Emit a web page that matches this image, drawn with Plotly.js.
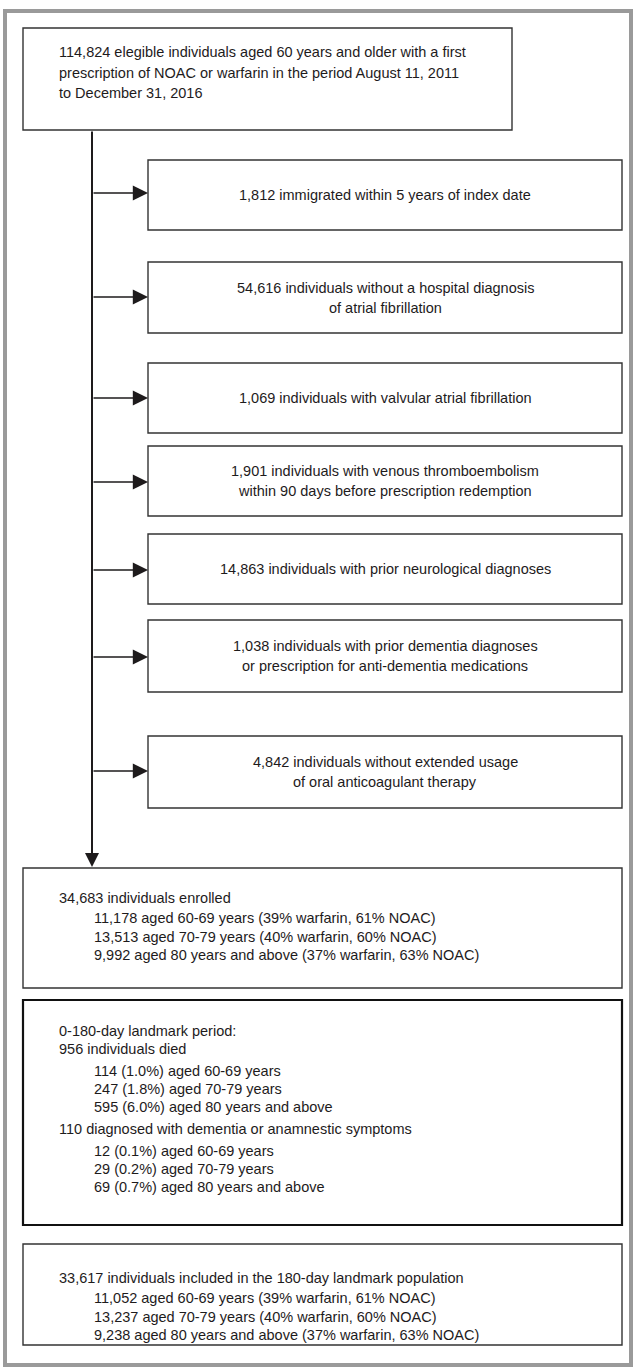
<!DOCTYPE html>
<html><head><meta charset="utf-8">
<script src="https://cdn.plot.ly/plotly-3.0.1.min.js"></script>
<style>body{margin:0;background:#fff}#chart{width:636px;height:1370px}</style>
</head><body><div id="chart"></div>
<script>
// ---- content (texts / counts) ----
const topLines = [
  "114,824 elegible individuals aged 60 years and older with a first",
  "prescription of NOAC or warfarin in the period August 11, 2011",
  "to December 31, 2016"
];
const exclusionCounts = ["1,812", "54,616", "1,069", "1,901", "14,863", "1,038", "4,842"];
const exclusionLabels = [
  [" immigrated within 5 years of index date"],
  [" individuals without a hospital diagnosis", "of atrial fibrillation"],
  [" individuals with valvular atrial fibrillation"],
  [" individuals with venous thromboembolism", "within 90 days before prescription redemption"],
  [" individuals with prior neurological diagnoses"],
  [" individuals with prior dementia diagnoses", "or prescription for anti-dementia medications"],
  [" individuals without extended usage", "of oral anticoagulant therapy"]
];
const enrolledHead = "34,683 individuals enrolled";
const enrolledGroups = [
  "11,178 aged 60-69 years (39% warfarin, 61% NOAC)",
  "13,513 aged 70-79 years (40% warfarin, 60% NOAC)",
  "9,992 aged 80 years and above (37% warfarin, 63% NOAC)"
];
const landmarkHead = ["0-180-day landmark period:", "956 individuals died"];
const diedGroups = ["114 (1.0%) aged 60-69 years", "247 (1.8%) aged 70-79 years", "595 (6.0%) aged 80 years and above"];
const dementiaHead = "110 diagnosed with dementia or anamnestic symptoms";
const dementiaGroups = ["12 (0.1%) aged 60-69 years", "29 (0.2%) aged 70-79 years", "69 (0.7%) aged 80 years and above"];
const finalHead = "33,617 individuals included in the 180-day landmark population";
const finalGroups = [
  "11,052 aged 60-69 years (39% warfarin, 61% NOAC)",
  "13,237 aged 70-79 years (40% warfarin, 60% NOAC)",
  "9,238 aged 80 years and above (37% warfarin, 63% NOAC)"
];

// ---- layout geometry (pixels, y downward) ----
const W = 636, H = 1370;
const exclTops = [160, 262, 363, 446, 534, 620, 736];
const exclBottoms = [230, 333, 433, 516, 604, 692, 808];
const arrowYs = [193, 297, 398, 482, 570, 657, 771];
const spineX = 92, exclLeft = 148, exclRight = 622;

const FONT = {family: "'Liberation Sans', Arial, Helvetica, sans-serif", size: 14.5, color: "#1e1b1c"};
const shapes = [];
const ann = [];

function rect(x0, y0, x1, y1, w, c) {
  shapes.push({type: 'rect', xref: 'x', yref: 'y', x0, y0, x1, y1,
    line: {color: c || '#333', width: w || 1.4}, fillcolor: 'rgba(0,0,0,0)'});
}
function txt(x, y, t, anchor) {
  ann.push({xref: 'x', yref: 'y', x, y, text: t, showarrow: false,
    xanchor: anchor || 'left', yanchor: 'middle', font: FONT});
}
function arrow(x0, y0, x1, y1, w, s) {
  ann.push({xref: 'x', yref: 'y', axref: 'x', ayref: 'y', x: x1, y: y1, ax: x0, ay: y0,
    text: '', showarrow: true, arrowhead: 2, arrowsize: s || 1.5, arrowwidth: w || 1.5,
    arrowcolor: '#1e1b1c', standoff: 0, startstandoff: 0});
}

// outer frame
rect(5, 11, 631, 1365, 4, '#9a9a9a');

// top box
rect(23, 28, 512, 130);
topLines.forEach((t, i) => txt(57, 52 + i * 20.5, t));

// spine with arrow down
arrow(spineX, 130, spineX, 867, 2, 1.4);

// exclusion boxes
exclusionCounts.forEach((c, i) => {
  rect(exclLeft, exclTops[i], exclRight, exclBottoms[i]);
  const lines = exclusionLabels[i].map((l, j) => j === 0 ? c + l : l);
  const cy = (exclTops[i] + exclBottoms[i]) / 2;
  const n = lines.length;
  lines.forEach((l, j) => txt((exclLeft + exclRight) / 2, cy + (j - (n - 1) / 2) * 20, l, 'center'));
  arrow(spineX, arrowYs[i], exclLeft, arrowYs[i], 1.6, 1.9);
});

// enrolled box
rect(23, 868, 622, 988);
txt(57, 898, enrolledHead);
enrolledGroups.forEach((t, i) => txt(92, 918 + i * 18.5, t));

// landmark box
rect(23, 1000, 622, 1225, 2.2, '#111');
landmarkHead.forEach((t, i) => txt(57, 1031 + i * 18, t));
diedGroups.forEach((t, i) => txt(92, 1071 + i * 18, t));
txt(57, 1129, dementiaHead);
dementiaGroups.forEach((t, i) => txt(92, 1151 + i * 18, t));

// final box
rect(23, 1244, 622, 1345);
txt(57, 1278, finalHead);
finalGroups.forEach((t, i) => txt(92, 1298 + i * 18.5, t));

Plotly.newPlot('chart', [{x: [], y: [], type: 'scatter'}], {
  width: W, height: H,
  margin: {l: 0, r: 0, t: 0, b: 0, pad: 0},
  paper_bgcolor: '#fff', plot_bgcolor: '#fff',
  showlegend: false,
  xaxis: {range: [0, W], visible: false, fixedrange: true},
  yaxis: {range: [H, 0], visible: false, fixedrange: true},
  shapes: shapes,
  annotations: ann
}, {staticPlot: true});
</script></body></html>
